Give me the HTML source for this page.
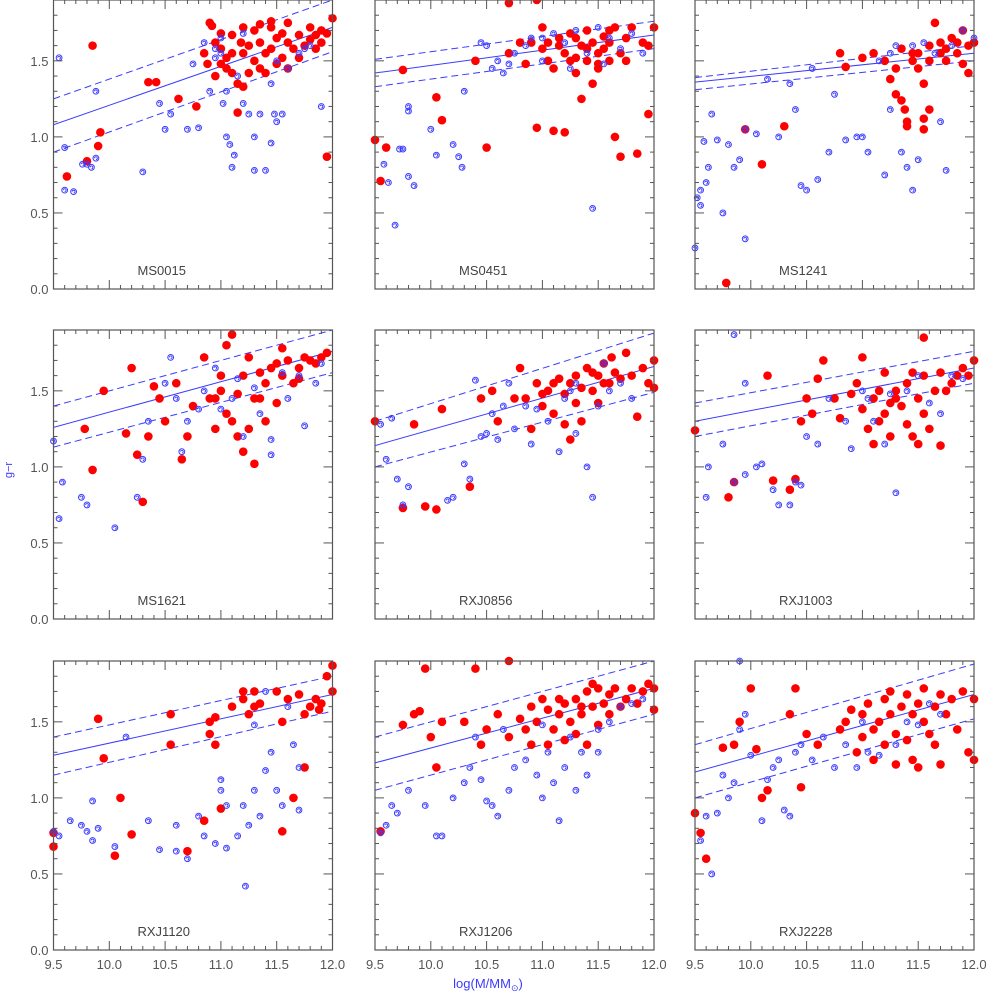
<!DOCTYPE html>
<html><head><meta charset="utf-8"><style>
html,body{margin:0;padding:0;background:#fff;}
svg{display:block;font-family:"Liberation Sans",sans-serif;}
</style></head><body>
<svg id="chart" width="989" height="992" viewBox="0 0 989 992" xmlns="http://www.w3.org/2000/svg"></svg>
<script>
const panelNames = ["MS0015","MS0451","MS1241","MS1621","RXJ0856","RXJ1003","RXJ1120","RXJ1206","RXJ2228"];
const xTicks = [9.5,10.0,10.5,11.0,11.5,12.0];
const xTickLabels = ["9.5","10.0","10.5","11.0","11.5","12.0"];
const yTicks = [0.0,0.5,1.0,1.5];
const yTickLabels = ["0.0","0.5","1.0","1.5"];
const solidL = [1.08,1.42,1.36,1.26,1.14,1.30,1.28,1.23,1.17];
const solidR = [1.72,1.67,1.55,1.76,1.66,1.65,1.68,1.72,1.68];
const upperL = [1.25,1.51,1.39,1.40,1.30,1.42,1.40,1.40,1.35];
const upperR = [1.90,1.76,1.60,1.90,1.88,1.76,1.80,1.90,1.88];
const lowerL = [0.90,1.33,1.31,1.13,1.00,1.20,1.15,1.05,1.00];
const lowerR = [1.56,1.58,1.50,1.62,1.49,1.55,1.57,1.55,1.52];
const redPts = [
[[9.85,1.60],[9.62,0.74],[9.80,0.84],[9.90,0.94],[9.92,1.03],[10.35,1.36],[10.42,1.36],[10.62,1.25],[10.78,1.20],[10.85,1.55],[10.9,1.75],[10.92,1.73],[10.88,1.48],[10.95,1.62],[11.0,1.58],[11.05,1.52],[11.1,1.67],[11.05,1.45],[11.1,1.42],[11.15,1.35],[11.2,1.33],[11.15,1.16],[11.18,1.62],[11.2,1.55],[11.25,1.6],[11.3,1.7],[11.3,1.5],[11.35,1.45],[11.35,1.62],[11.4,1.55],[11.4,1.42],[11.45,1.72],[11.45,1.58],[11.5,1.65],[11.5,1.48],[11.55,1.52],[11.55,1.68],[11.6,1.62],[11.6,1.45],[11.65,1.58],[11.7,1.67],[11.7,1.52],[11.75,1.6],[11.8,1.64],[11.85,1.58],[11.85,1.67],[11.9,1.62],[11.95,1.68],[12.0,1.78],[11.95,0.87],[11.0,1.68],[11.25,1.42],[11.35,1.74],[11.45,1.76],[11.2,1.72],[11.1,1.55],[11.6,1.75],[11.8,1.72],[11.9,1.7],[10.95,1.4],[11.0,1.48]],
[[9.5,0.98],[9.55,0.71],[9.6,0.93],[9.75,1.44],[10.05,1.26],[10.1,1.11],[10.4,1.5],[10.5,0.93],[10.7,1.55],[10.7,1.88],[10.95,1.9],[10.9,1.62],[10.85,1.48],[10.95,1.06],[11.0,1.58],[11.05,1.5],[11.1,1.45],[11.1,1.04],[11.15,1.6],[11.2,1.55],[11.2,1.03],[11.25,1.68],[11.3,1.52],[11.3,1.42],[11.35,1.6],[11.35,1.25],[11.4,1.7],[11.4,1.5],[11.45,1.62],[11.45,1.35],[11.5,1.55],[11.5,1.45],[11.55,1.66],[11.55,1.58],[11.6,1.5],[11.6,1.62],[11.65,1.0],[11.65,1.72],[11.7,1.55],[11.7,0.87],[11.75,1.65],[11.8,1.72],[11.85,0.89],[11.9,1.62],[11.95,1.15],[12.0,1.72],[11.0,1.72],[11.15,1.65],[11.25,1.5],[11.4,1.58],[11.5,1.48],[11.3,1.65],[11.6,1.7],[11.75,1.5],[11.05,1.62],[10.8,1.62],[11.95,1.6]],
[[9.78,0.04],[9.95,1.05],[10.1,0.82],[10.3,1.07],[10.85,1.46],[10.8,1.55],[11.0,1.52],[11.1,1.55],[11.2,1.5],[11.25,1.38],[11.3,1.45],[11.35,1.58],[11.3,1.28],[11.35,1.24],[11.38,1.18],[11.4,1.1],[11.4,1.07],[11.45,1.5],[11.5,1.55],[11.5,1.45],[11.55,1.35],[11.55,1.05],[11.6,1.6],[11.6,1.5],[11.65,1.75],[11.7,1.55],[11.7,1.62],[11.75,1.5],[11.8,1.65],[11.85,1.55],[11.9,1.7],[11.9,1.48],[11.95,1.6],[12.0,1.62],[11.95,1.42],[11.6,1.18],[11.55,1.12],[11.45,1.55],[11.75,1.58],[11.85,1.62]],
[[9.78,1.25],[9.85,0.98],[9.95,1.5],[10.15,1.22],[10.2,1.65],[10.25,1.08],[10.3,0.77],[10.35,1.2],[10.4,1.53],[10.45,1.45],[10.5,1.3],[10.6,1.55],[10.65,1.05],[10.7,1.2],[10.75,1.4],[10.85,1.72],[10.9,1.45],[10.95,1.25],[11.0,1.5],[11.05,1.8],[11.1,1.87],[11.1,1.3],[11.15,1.2],[11.2,1.6],[11.2,1.1],[11.25,1.72],[11.3,1.45],[11.3,1.02],[11.35,1.62],[11.4,1.55],[11.4,1.3],[11.45,1.65],[11.5,1.68],[11.55,1.6],[11.6,1.7],[11.65,1.55],[11.7,1.65],[11.75,1.72],[11.8,1.7],[11.85,1.68],[11.9,1.72],[11.95,1.75],[11.15,1.48],[11.05,1.35],[11.25,1.25],[11.35,1.45],[11.5,1.42],[11.55,1.78],[11.7,1.58],[11.0,1.6],[10.95,1.45]],
[[9.5,1.3],[9.75,0.73],[9.85,1.28],[9.95,0.74],[10.05,0.72],[10.1,1.38],[10.35,0.87],[10.45,1.45],[10.55,1.5],[10.6,1.3],[10.75,1.45],[10.8,1.65],[10.85,1.45],[10.9,1.25],[10.95,1.55],[11.0,1.48],[11.05,1.5],[11.1,1.35],[11.1,1.55],[11.15,1.58],[11.2,1.28],[11.2,1.48],[11.25,1.55],[11.25,1.18],[11.3,1.6],[11.3,1.42],[11.35,1.52],[11.4,1.65],[11.45,1.5],[11.5,1.6],[11.5,1.42],[11.55,1.68],[11.6,1.55],[11.65,1.62],[11.7,1.58],[11.75,1.75],[11.8,1.6],[11.85,1.33],[11.9,1.65],[11.95,1.55],[12.0,1.7],[12.0,1.52],[11.35,1.3],[11.45,1.62],[11.55,1.55],[11.0,1.4],[11.62,1.72]],
[[9.5,1.24],[9.8,0.8],[9.85,0.9],[10.2,0.91],[10.35,0.85],[10.4,0.92],[10.15,1.6],[10.45,1.3],[10.5,1.45],[10.55,1.35],[10.65,1.7],[10.6,1.58],[10.75,1.45],[10.8,1.32],[10.9,1.48],[10.95,1.55],[11.0,1.72],[11.0,1.38],[11.05,1.25],[11.1,1.45],[11.1,1.15],[11.15,1.5],[11.2,1.62],[11.2,1.35],[11.25,1.2],[11.3,1.5],[11.3,1.45],[11.35,1.4],[11.4,1.55],[11.4,1.28],[11.45,1.62],[11.5,1.45],[11.5,1.15],[11.55,1.6],[11.55,1.35],[11.6,1.25],[11.65,1.5],[11.7,1.62],[11.7,1.14],[11.75,1.5],[11.8,1.55],[11.85,1.6],[11.9,1.65],[11.95,1.6],[12.0,1.7],[11.55,1.85],[11.15,1.3],[11.45,1.2],[11.25,1.42]],
[[9.5,0.77],[9.5,0.68],[9.9,1.52],[9.95,1.26],[10.05,0.62],[10.1,1.0],[10.2,0.76],[10.55,1.35],[10.55,1.55],[10.7,0.65],[10.85,0.85],[10.9,1.5],[10.9,1.42],[10.95,1.53],[10.95,1.35],[11.0,0.93],[11.1,1.6],[11.2,1.7],[11.2,1.65],[11.25,1.55],[11.3,1.6],[11.3,1.7],[11.35,1.62],[11.5,1.7],[11.55,1.5],[11.55,0.78],[11.6,1.65],[11.65,1.0],[11.7,1.68],[11.75,1.55],[11.75,1.2],[11.8,1.6],[11.85,1.65],[11.9,1.62],[11.95,1.8],[12.0,1.87],[12.0,1.7],[11.88,1.58]],
[[9.55,0.78],[9.75,1.48],[9.85,1.55],[9.9,1.57],[9.95,1.85],[10.0,1.4],[10.05,1.2],[10.1,1.5],[10.3,1.5],[10.4,1.85],[10.45,1.35],[10.5,1.45],[10.6,1.55],[10.7,1.9],[10.7,1.4],[10.8,1.52],[10.85,1.45],[10.9,1.35],[10.95,1.5],[11.0,1.65],[11.05,1.58],[11.1,1.45],[11.15,1.55],[11.2,1.62],[11.2,1.38],[11.25,1.5],[11.3,1.65],[11.3,1.42],[11.35,1.55],[11.4,1.7],[11.4,1.35],[11.45,1.6],[11.5,1.72],[11.5,1.48],[11.55,1.62],[11.6,1.55],[11.6,1.68],[11.65,1.72],[11.7,1.6],[11.75,1.65],[11.8,1.72],[11.85,1.62],[11.9,1.7],[11.95,1.75],[12.0,1.72],[12.0,1.58],[11.35,1.6],[11.45,1.75],[11.15,1.65],[11.05,1.35],[10.9,1.6]],
[[9.5,0.9],[9.55,0.77],[9.6,0.6],[9.75,1.33],[9.85,1.35],[9.9,1.5],[10.0,1.72],[10.05,1.32],[10.1,1.0],[10.15,1.05],[10.35,1.55],[10.4,1.72],[10.45,1.07],[10.5,1.42],[10.6,1.35],[10.8,1.45],[10.85,1.5],[10.9,1.58],[10.95,1.3],[11.0,1.55],[11.0,1.4],[11.05,1.62],[11.1,1.45],[11.1,1.25],[11.15,1.5],[11.2,1.65],[11.2,1.35],[11.25,1.55],[11.3,1.42],[11.3,1.22],[11.35,1.6],[11.4,1.68],[11.4,1.38],[11.45,1.55],[11.45,1.25],[11.5,1.62],[11.5,1.2],[11.55,1.5],[11.55,1.72],[11.6,1.42],[11.65,1.6],[11.7,1.68],[11.7,1.22],[11.75,1.55],[11.8,1.65],[11.85,1.45],[11.9,1.7],[11.95,1.3],[12.0,1.65],[12.0,1.25],[11.25,1.7],[11.65,1.35]]
];
const bluePts = [
[[9.55,1.52],[9.6,0.65],[9.68,0.64],[9.76,0.82],[9.8,0.82],[9.84,0.80],[9.88,0.86],[9.88,1.30],[9.6,0.93],[10.3,0.77],[10.55,1.15],[10.5,1.05],[10.7,1.05],[10.75,1.48],[10.8,1.06],[10.85,1.62],[10.9,1.30],[10.95,1.52],[11.0,1.55],[11.02,1.22],[11.05,1.0],[11.08,0.95],[11.1,0.80],[11.12,0.88],[11.15,1.40],[11.2,1.68],[11.25,1.15],[11.3,1.0],[11.35,1.15],[11.4,0.78],[11.45,1.35],[11.48,1.15],[11.5,1.1],[11.55,1.15],[11.3,0.78],[11.0,1.65],[10.95,1.58],[11.5,1.5],[11.6,1.45],[11.7,1.55],[11.75,1.58],[11.2,1.22],[11.9,1.2],[11.8,1.6],[11.45,0.96],[11.05,1.3],[10.45,1.22]],
[[9.58,0.82],[9.62,0.7],[9.68,0.42],[9.72,0.92],[9.75,0.92],[9.8,1.2],[9.8,1.17],[9.8,0.74],[9.85,0.68],[10.05,0.88],[10.0,1.05],[10.2,0.95],[10.25,0.87],[10.28,0.80],[10.3,1.3],[10.45,1.62],[10.5,1.6],[10.55,1.45],[10.6,1.5],[10.7,1.48],[10.85,1.6],[10.9,1.65],[11.0,1.65],[11.1,1.68],[11.2,1.62],[11.3,1.7],[11.4,1.55],[11.45,0.53],[11.5,1.72],[11.6,1.65],[11.7,1.58],[11.8,1.68],[11.9,1.55],[11.0,1.5],[11.25,1.45],[10.75,1.55],[11.55,1.48],[10.65,1.42]],
[[9.5,0.27],[9.52,0.6],[9.55,0.55],[9.55,0.65],[9.58,0.97],[9.6,0.7],[9.62,0.8],[9.65,1.15],[9.7,0.98],[9.75,0.5],[9.8,0.95],[9.85,0.8],[9.9,0.85],[9.95,0.33],[9.95,1.05],[10.05,1.02],[10.15,1.38],[10.25,1.0],[10.35,1.35],[10.4,1.18],[10.45,0.68],[10.5,0.65],[10.55,1.45],[10.6,0.72],[10.7,0.9],[10.75,1.28],[10.85,0.98],[10.95,1.0],[11.0,1.0],[11.05,0.9],[11.15,1.5],[11.2,0.75],[11.25,1.18],[11.3,1.6],[11.35,0.9],[11.4,0.8],[11.45,0.65],[11.5,0.85],[11.55,1.62],[11.65,1.55],[11.7,1.1],[11.75,0.78],[11.8,1.6],[11.9,1.7],[12.0,1.65],[11.25,1.55],[11.45,1.6]],
[[9.5,1.17],[9.55,0.66],[9.58,0.9],[9.75,0.8],[9.8,0.75],[10.05,0.6],[10.25,0.8],[10.3,1.05],[10.35,1.3],[10.5,1.55],[10.55,1.72],[10.6,1.45],[10.65,1.1],[10.7,1.3],[10.8,1.38],[10.85,1.5],[10.95,1.65],[11.0,1.38],[11.1,1.45],[11.15,1.58],[11.2,1.2],[11.3,1.52],[11.35,1.35],[11.45,1.18],[11.45,1.08],[11.55,1.62],[11.6,1.45],[11.7,1.6],[11.75,1.27],[11.85,1.55],[11.9,1.68]],
[[9.55,1.28],[9.6,1.05],[9.65,1.32],[9.7,0.92],[9.75,0.75],[9.8,0.87],[10.15,0.78],[10.2,0.8],[10.3,1.02],[10.35,0.92],[10.4,1.57],[10.45,1.2],[10.5,1.22],[10.55,1.35],[10.6,1.18],[10.7,1.55],[10.75,1.25],[10.85,1.4],[10.9,1.15],[10.95,1.38],[11.05,1.3],[11.15,1.1],[11.2,1.45],[11.25,1.5],[11.3,1.22],[11.4,1.0],[11.45,0.8],[11.5,1.4],[11.55,1.68],[11.6,1.5],[11.7,1.55],[11.8,1.45],[11.3,1.55],[10.65,1.4]],
[[9.6,0.8],[9.62,1.0],[9.75,1.15],[9.85,0.9],[9.95,0.95],[10.05,1.0],[10.1,1.02],[10.2,0.85],[10.25,0.75],[10.35,0.75],[10.4,0.9],[10.45,0.88],[10.5,1.2],[10.6,1.15],[10.7,1.45],[10.85,1.3],[10.9,1.12],[11.0,1.5],[11.05,1.45],[11.2,1.15],[11.3,0.83],[11.4,1.5],[11.5,1.6],[11.6,1.42],[11.7,1.35],[11.8,1.6],[11.9,1.58],[9.85,1.87],[11.1,1.3],[11.25,1.48],[9.95,1.55]],
[[9.5,0.78],[9.55,0.75],[9.65,0.85],[9.75,0.82],[9.8,0.78],[9.85,0.98],[9.85,0.72],[9.9,0.8],[10.05,0.68],[10.15,1.4],[10.35,0.85],[10.45,0.66],[10.6,0.82],[10.6,0.65],[10.7,0.6],[10.8,0.88],[10.85,0.75],[10.95,0.7],[11.0,1.12],[11.0,1.05],[11.05,0.67],[11.05,0.95],[11.15,0.75],[11.2,0.95],[11.22,0.42],[11.3,1.05],[11.35,0.88],[11.4,1.18],[11.45,1.3],[11.5,1.05],[11.55,0.95],[11.6,1.6],[11.65,1.35],[11.7,0.92],[11.7,1.2],[11.4,1.7],[11.3,1.48],[11.25,0.82]],
[[9.55,0.77],[9.6,0.82],[9.65,0.95],[9.7,0.9],[9.8,1.05],[9.95,0.95],[10.05,0.75],[10.1,0.75],[10.2,1.0],[10.3,1.1],[10.35,1.2],[10.45,1.12],[10.5,0.98],[10.55,0.95],[10.6,0.88],[10.7,1.05],[10.75,1.2],[10.85,1.25],[10.95,1.15],[11.0,1.0],[11.05,1.3],[11.1,1.1],[11.15,0.85],[11.2,1.2],[11.25,1.4],[11.3,1.05],[11.35,1.3],[11.4,1.15],[11.5,1.45],[11.6,1.5],[11.7,1.6],[11.8,1.62],[11.9,1.65],[10.65,1.45],[11.0,1.48],[10.4,1.4],[11.5,1.3]],
[[9.55,0.72],[9.6,0.88],[9.65,0.5],[9.7,0.9],[9.75,1.15],[9.8,1.0],[9.85,1.1],[9.9,1.45],[9.95,1.55],[10.0,1.28],[10.1,0.85],[10.15,1.12],[10.2,1.2],[10.25,1.25],[10.3,0.92],[10.35,0.88],[10.4,1.3],[10.45,1.35],[10.55,1.25],[10.65,1.4],[10.75,1.2],[10.85,1.35],[10.95,1.2],[11.05,1.3],[11.15,1.28],[11.3,1.35],[11.4,1.5],[11.5,1.48],[11.6,1.62],[11.7,1.55],[9.9,1.9],[11.0,1.5]]
];

const NS = "http://www.w3.org/2000/svg";
const svg = document.getElementById('chart');
const colLeft = [53.5, 375, 695];
const rowBottom = [289, 619, 950];
const W = 279, H = 289;
const XMIN = 9.5, XMAX = 12.0, YMAX = 1.9;
const AX = "#555";
const BLUE = "#3b3bff";
function mk(tag, attrs, parent) {
  const e = document.createElementNS(NS, tag);
  for (const k in attrs) e.setAttribute(k, attrs[k]);
  (parent || svg).appendChild(e);
  return e;
}
for (let p = 0; p < 9; p++) {
  const c = p % 3, r = Math.floor(p / 3);
  const L = colLeft[c], B = rowBottom[r], T = B - H;
  const sx = v => L + (v - XMIN) / (XMAX - XMIN) * W;
  const sy = v => B - v / YMAX * H;
  const g = mk('g', {});
  
  
  const clipId = 'clip' + p;
  const cp = mk('clipPath', {id: clipId}, g);
  mk('rect', {x: L, y: Math.max(T, 0), width: W, height: B - Math.max(T, 0)}, cp);
  // fit lines
  const lines = mk('g', {'clip-path': 'url(#' + clipId + ')'}, g);
  const sl = mk('line', {x1: sx(XMIN), y1: sy(solidL[p]), x2: sx(XMAX), y2: sy(solidR[p]), stroke: BLUE, 'stroke-width': 1}, lines);
  
  
  const ul = mk('line', {x1: sx(XMIN), y1: sy(upperL[p]), x2: sx(XMAX), y2: sy(upperR[p]), stroke: BLUE, 'stroke-width': 1, 'stroke-dasharray': '7,4'}, lines);
  
  
  const ll = mk('line', {x1: sx(XMIN), y1: sy(lowerL[p]), x2: sx(XMAX), y2: sy(lowerR[p]), stroke: BLUE, 'stroke-width': 1, 'stroke-dasharray': '7,4'}, lines);
  
  
  // red points
  for (const pt of redPts[p]) {
    const e = mk('circle', {cx: sx(pt[0]), cy: sy(pt[1]), r: 4.3, fill: '#ff0000'}, g);
    
    
  }
  // blue spirals
  for (const pt of bluePts[p]) {
    const x = sx(pt[0]), y = sy(pt[1]);
    const s = mk('g', {}, g);
    
    
    mk('circle', {cx: x, cy: y, r: 2.9, fill: 'none', stroke: BLUE, 'stroke-width': 1}, s);
    mk('path', {d: `M${x-1.4},${y} a1.4,1.4 0 1 1 1.4,1.4`, fill: 'none', stroke: BLUE, 'stroke-width': 0.9}, s);
  }
  // frame
  const fr = mk('rect', {x: L, y: T, width: W, height: H, fill: 'none', stroke: AX, 'stroke-width': 1.2}, g);
  
  
  // x ticks
  for (let i = 0; i <= 25; i++) {
    const v = XMIN + i * 0.1, x = sx(v);
    const len = (i % 5 === 0) ? 9 : 4;
    mk('line', {x1: x, y1: B, x2: x, y2: B - len, stroke: AX, 'stroke-width': 1}, g);
    mk('line', {x1: x, y1: T, x2: x, y2: T + len, stroke: AX, 'stroke-width': 1}, g);
  }
  // y ticks
  for (let i = 0; i <= 19; i++) {
    const v = i * 0.1, y = sy(v);
    if (y < 0) continue;
    const len = (i % 5 === 0) ? 9 : 4;
    mk('line', {x1: L, y1: y, x2: L + len, y2: y, stroke: AX, 'stroke-width': 1}, g);
    mk('line', {x1: L + W, y1: y, x2: L + W - len, y2: y, stroke: AX, 'stroke-width': 1}, g);
  }
  if (c === 0) {
    yTicks.forEach((v, i) => {
      const t = mk('text', {x: L - 5, y: sy(v) + 5, 'text-anchor': 'end', 'font-size': 13, fill: AX}, g);
      t.textContent = yTickLabels[i];
      
      
    });
  }
  if (r === 2) {
    xTicks.forEach((v, i) => {
      const t = mk('text', {x: sx(v), y: B + 19, 'text-anchor': 'middle', 'font-size': 13, fill: AX}, g);
      t.textContent = xTickLabels[i];
      
      
    });
  }
  const nm = mk('text', {x: L + 84, y: B - 14, 'font-size': 13, fill: '#444'}, g);
  nm.textContent = panelNames[p];
  
  
}
const xt = mk('text', {x: 488, y: 988, 'text-anchor': 'middle', 'font-size': 13, fill: BLUE});
xt.innerHTML = 'log(M/MM<tspan font-size="9" dy="3">⊙</tspan><tspan dy="-3">)</tspan>';


const yt = mk('text', {x: 12, y: 470, 'text-anchor': 'middle', 'font-size': 11, fill: BLUE, transform: 'rotate(-90 12 470)'});
yt.textContent = 'g−r';


</script>
</body></html>
